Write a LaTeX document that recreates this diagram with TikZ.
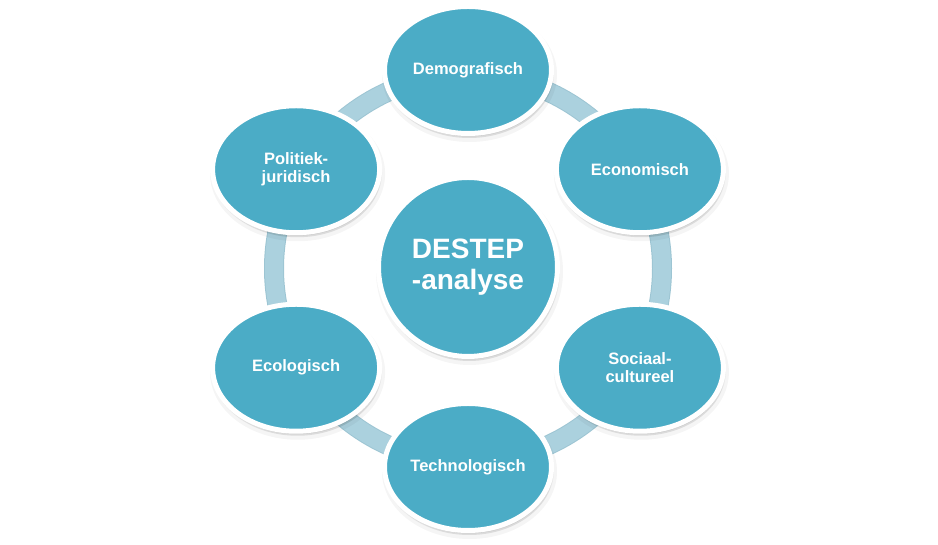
\documentclass[tikz,border=0pt]{standalone}
\usepackage{fontspec}
\setmainfont{Liberation Sans}
\usetikzlibrary{shapes.geometric,calc}
\definecolor{nodeblue}{HTML}{4BACC6}
\definecolor{ringblue}{HTML}{ABD1DE}
\definecolor{ringedge}{HTML}{9DC5D3}
\tikzset{
  x=1pt,y=1pt,
  softshadow/.style={
    preaction={fill=black, fill opacity=0.06, draw=black, draw opacity=0.04, line width=8,
      transform canvas={xshift=1.5pt,yshift=-4.5pt}},
    preaction={fill=black, fill opacity=0.07, draw=black, draw opacity=0.05, line width=3,
      transform canvas={xshift=1pt,yshift=-3pt}}
  },
  outernode/.style={ellipse, softshadow, fill=nodeblue, draw=white, line width=5,
    minimum width=167, minimum height=127, inner sep=0pt, align=center,
    text=white, font=\fontsize{16.5}{18}\selectfont\bfseries},
  centernode/.style={circle, softshadow, fill=nodeblue, draw=white, line width=5,
    minimum size=179, inner sep=0pt, align=center,
    text=white, font=\fontsize{28}{31}\selectfont\bfseries}
}
\begin{document}
\begin{tikzpicture}
\useasboundingbox (0,0) rectangle (938,545);
\coordinate (c) at (468,276.5);
% ring
\draw[ringedge, line width=20] (c) circle[radius=194];
\draw[ringblue, line width=18] (c) circle[radius=194];
% outer nodes
\node[outernode] (dem) at ($(c)+(90:198.5)$) {Demografisch};
\node[outernode] (eco) at ($(c)+(30:198.5)$) {Economisch};
\node[outernode] (soc) at ($(c)+(-30:198.5)$) {Sociaal-\\cultureel};
\node[outernode] (tec) at ($(c)+(-90:198.5)$) {Technologisch};
\node[outernode] (ecl) at ($(c)+(-150:198.5)$) {Ecologisch};
\node[outernode] (pol) at ($(c)+(150:198.5)$) {Politiek-\\juridisch};
% center
\node[centernode] (destep) at ($(c)+(0,1.5)$) {DESTEP\\-analyse};
\end{tikzpicture}
\end{document}
